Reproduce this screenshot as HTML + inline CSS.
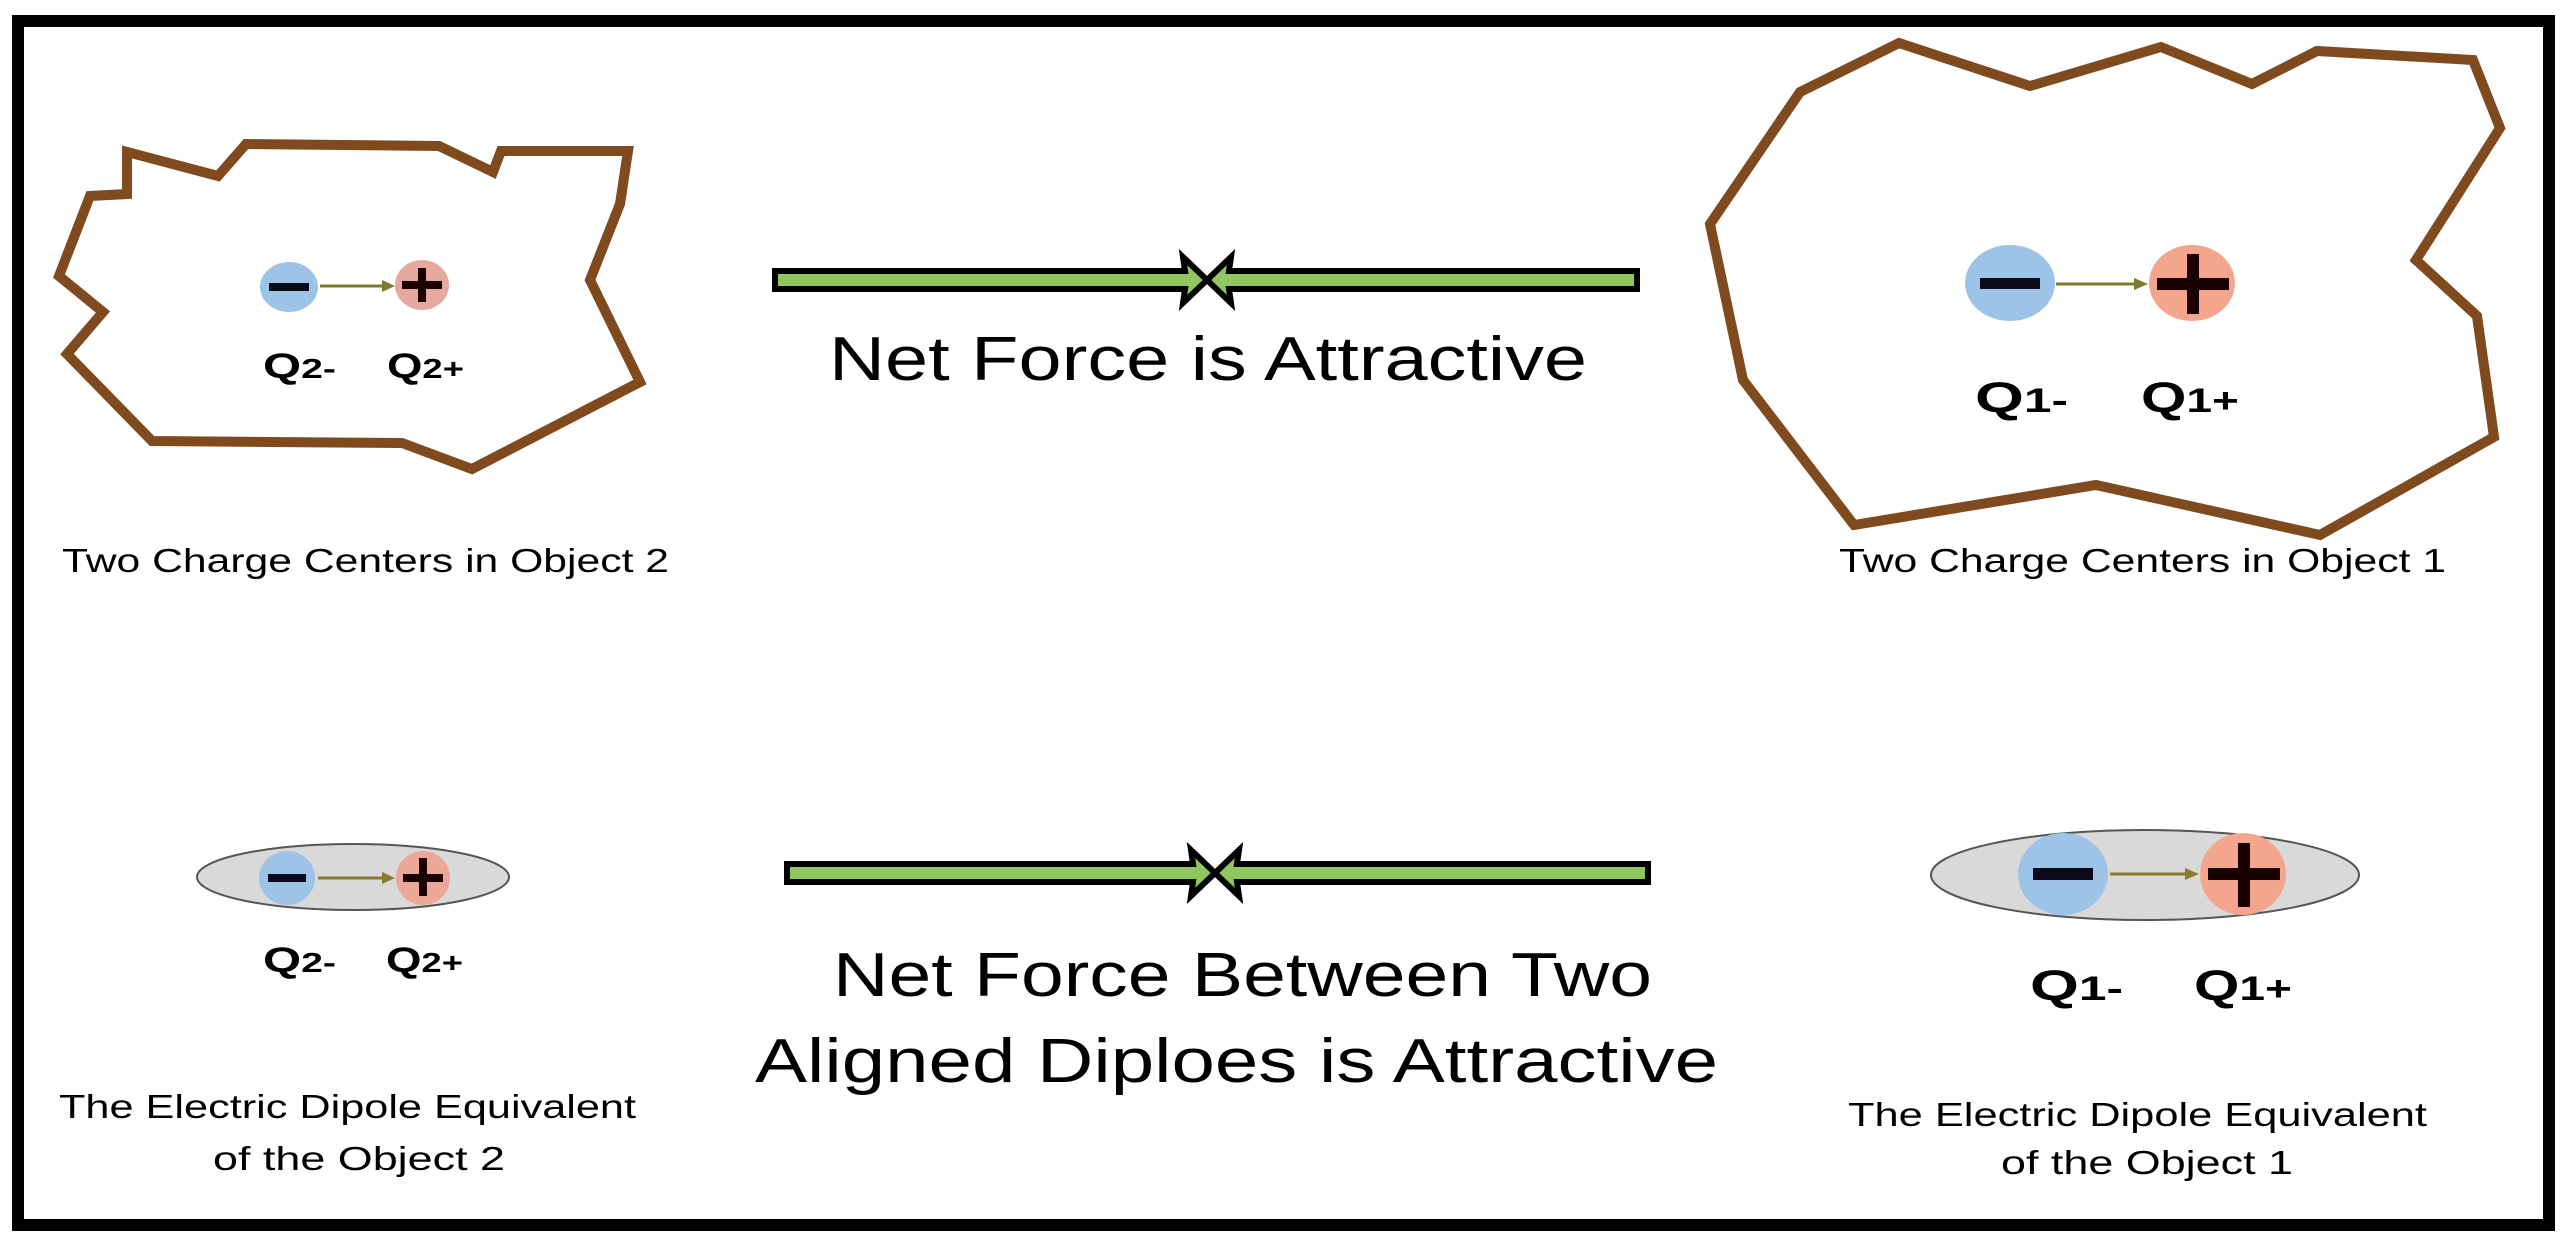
<!DOCTYPE html>
<html><head><meta charset="utf-8"><style>
html,body{margin:0;padding:0;background:#fff;}
svg{display:block;}
text{font-family:"Liberation Sans",sans-serif;fill:#000;}
</style></head><body>
<svg width="2574" height="1257" viewBox="0 0 2574 1257" xmlns="http://www.w3.org/2000/svg">
<rect x="0" y="0" width="2574" height="1257" fill="#fff"/>
<rect x="18" y="21" width="2531" height="1204" fill="none" stroke="#000" stroke-width="12"/>

<!-- Object 2 -->
<polygon points="127,152 218,176 246,144 439,146 493,172 501,151 628,151 620,204 590,280 640,382 472,469 402,443 152,441 67,354 103,312 59,276 90,196 127,194" fill="none" stroke="#7f4a1e" stroke-width="10" stroke-linejoin="miter"/>
<ellipse cx="289" cy="287" rx="29" ry="25" fill="#9dc3e6"/>
<rect x="269" y="283" width="40" height="8" fill="#0a0a1a"/>
<ellipse cx="422" cy="285" rx="27" ry="25" fill="#e6a9a0"/>
<rect x="402" y="281" width="40" height="8" fill="#1a0000"/>
<rect x="418" y="268" width="8" height="34" fill="#1a0000"/>
<line x1="320" y1="286" x2="383" y2="286" stroke="#7f7a30" stroke-width="3"/>
<polygon points="395,286 382,280 382,292" fill="#7f7a30"/>
<text x="263" y="378" font-size="35" font-weight="bold" textLength="73" lengthAdjust="spacingAndGlyphs">Q<tspan font-size="28">2-</tspan></text>
<text x="387" y="378" font-size="35" font-weight="bold" textLength="77" lengthAdjust="spacingAndGlyphs">Q<tspan font-size="28">2+</tspan></text>
<text x="62" y="572" font-size="33" textLength="607" lengthAdjust="spacingAndGlyphs">Two Charge Centers in Object 2</text>

<!-- Object 1 -->
<polygon points="1899,43 2030,86 2161,47 2252,84 2317,51 2473,60 2500,128 2416,260 2477,316 2494,437 2320,535 2096,485 1854,525 1743,380 1710,224 1800,92" fill="none" stroke="#7f4a1e" stroke-width="10" stroke-linejoin="miter"/>
<ellipse cx="2010" cy="283" rx="45" ry="38" fill="#9dc3e6"/>
<rect x="1980" y="278" width="60" height="11" fill="#0a0a1a"/>
<ellipse cx="2192" cy="283" rx="43" ry="38" fill="#f4a58e"/>
<rect x="2157" y="278" width="72" height="12" fill="#1a0000"/>
<rect x="2187" y="254" width="12" height="60" fill="#1a0000"/>
<line x1="2056" y1="284" x2="2135" y2="284" stroke="#7f7a30" stroke-width="3"/>
<polygon points="2148,284 2134,278 2134,290" fill="#7f7a30"/>
<text x="1975" y="412" font-size="43" font-weight="bold" textLength="93" lengthAdjust="spacingAndGlyphs">Q<tspan font-size="34">1-</tspan></text>
<text x="2141" y="412" font-size="43" font-weight="bold" textLength="98" lengthAdjust="spacingAndGlyphs">Q<tspan font-size="34">1+</tspan></text>
<text x="1839" y="572" font-size="33" textLength="607" lengthAdjust="spacingAndGlyphs">Two Charge Centers in Object 1</text>

<!-- Top force arrows -->
<polygon points="775,271 1185,271 1183,257 1207,280 1183,303 1185,289 775,289" fill="#8fc75e" stroke="#000" stroke-width="6" stroke-linejoin="miter"/>
<polygon points="1637,271 1229,271 1231,257 1207,280 1231,303 1229,289 1637,289" fill="#8fc75e" stroke="#000" stroke-width="6" stroke-linejoin="miter"/>
<text x="829" y="380" font-size="62" textLength="758" lengthAdjust="spacingAndGlyphs">Net Force is Attractive</text>

<!-- Bottom force arrows -->
<polygon points="787,864 1193,864 1191,850 1215,873 1191,896 1193,882 787,882" fill="#8fc75e" stroke="#000" stroke-width="6" stroke-linejoin="miter"/>
<polygon points="1648,864 1237,864 1239,850 1215,873 1239,896 1237,882 1648,882" fill="#8fc75e" stroke="#000" stroke-width="6" stroke-linejoin="miter"/>
<text x="833" y="996" font-size="62" textLength="819" lengthAdjust="spacingAndGlyphs">Net Force Between Two</text>
<text x="755" y="1082" font-size="62" textLength="963" lengthAdjust="spacingAndGlyphs">Aligned Diploes is Attractive</text>

<!-- Bottom-left dipole -->
<ellipse cx="353" cy="877" rx="156" ry="33" fill="#d9d9d9" stroke="#555" stroke-width="2"/>
<ellipse cx="287" cy="878" rx="28" ry="27" fill="#9dc3e6"/>
<rect x="268" y="874" width="38" height="8" fill="#0a0a1a"/>
<ellipse cx="423" cy="878" rx="27" ry="27" fill="#eba898"/>
<rect x="403" y="874" width="40" height="8" fill="#1a0000"/>
<rect x="419" y="858" width="8" height="38" fill="#1a0000"/>
<line x1="318" y1="878" x2="383" y2="878" stroke="#8a7a30" stroke-width="3"/>
<polygon points="395,878 382,872 382,884" fill="#8a7a30"/>
<text x="263" y="972" font-size="35" font-weight="bold" textLength="73" lengthAdjust="spacingAndGlyphs">Q<tspan font-size="28">2-</tspan></text>
<text x="386" y="972" font-size="35" font-weight="bold" textLength="77" lengthAdjust="spacingAndGlyphs">Q<tspan font-size="28">2+</tspan></text>
<text x="59" y="1118" font-size="33" textLength="577" lengthAdjust="spacingAndGlyphs">The Electric Dipole Equivalent</text>
<text x="213" y="1170" font-size="33" textLength="292" lengthAdjust="spacingAndGlyphs">of the Object 2</text>

<!-- Bottom-right dipole -->
<ellipse cx="2145" cy="875" rx="214" ry="45" fill="#d9d9d9" stroke="#555" stroke-width="2"/>
<ellipse cx="2063" cy="874" rx="45" ry="41" fill="#9dc3e6"/>
<rect x="2033" y="868" width="60" height="12" fill="#0a0a1a"/>
<ellipse cx="2243" cy="874" rx="43" ry="41" fill="#f4a58e"/>
<rect x="2208" y="868" width="72" height="12" fill="#1a0000"/>
<rect x="2238" y="843" width="12" height="64" fill="#1a0000"/>
<line x1="2110" y1="874" x2="2186" y2="874" stroke="#8a7a30" stroke-width="3"/>
<polygon points="2199,874 2185,868 2185,880" fill="#8a7a30"/>
<text x="2030" y="1000" font-size="43" font-weight="bold" textLength="93" lengthAdjust="spacingAndGlyphs">Q<tspan font-size="34">1-</tspan></text>
<text x="2194" y="1000" font-size="43" font-weight="bold" textLength="98" lengthAdjust="spacingAndGlyphs">Q<tspan font-size="34">1+</tspan></text>
<text x="1848" y="1126" font-size="33" textLength="579" lengthAdjust="spacingAndGlyphs">The Electric Dipole Equivalent</text>
<text x="2001" y="1174" font-size="33" textLength="292" lengthAdjust="spacingAndGlyphs">of the Object 1</text>
</svg>
</body></html>
